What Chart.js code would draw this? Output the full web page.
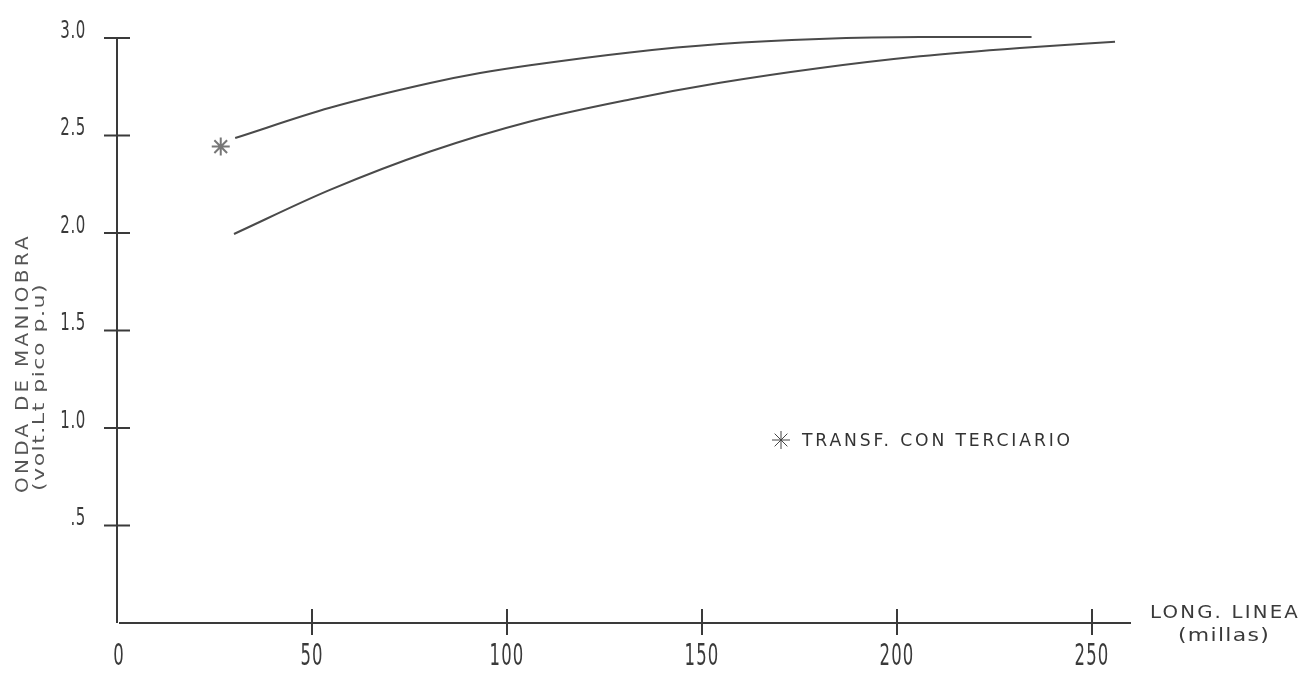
<!DOCTYPE html>
<html><head><meta charset="utf-8">
<script src="https://cdn.jsdelivr.net/npm/chart.js@4.4.1/dist/chart.umd.min.js"></script>
<style>html,body{margin:0;padding:0;background:#fff}#wrap{width:1305px;height:674px;position:relative}</style>
</head><body><div id="wrap"><canvas id="c"></canvas></div>
<script>
// ---- data ----
const upperX = [30.3, 54.6, 80.3, 93.1, 105.9, 131.5, 154.6, 180.0, 205.9, 234.5];
const upperY = [2.487, 2.642, 2.769, 2.820, 2.860, 2.926, 2.969, 2.995, 3.005, 3.005];
const lowerX = [30.0, 54.6, 80.3, 105.9, 131.5, 154.6, 180.3, 205.9, 231.5, 255.9];
const lowerY = [1.995, 2.221, 2.418, 2.572, 2.685, 2.770, 2.846, 2.906, 2.949, 2.981];
const starX = [26.6];
const starY = [2.443];
const xTicks = [0, 50, 100, 150, 200, 250];
const xTickLabels = ['0', '50', '100', '150', '200', '250'];
const yTicks = [0.5, 1.0, 1.5, 2.0, 2.5, 3.0];
const yTickLabels = ['.5', '1.0', '1.5', '2.0', '2.5', '3.0'];
const yTitle = ['ONDA DE MANIOBRA', '(volt.Lt pico p.u)'];
const xTitle = ['LONG. LINEA', '(millas)'];
const legendLabel = 'TRANSF. CON TERCIARIO';

const toPts = (xs, ys) => xs.map((x, i) => ({x: x, y: ys[i]}));
const FONT = '"DejaVu Sans", "Liberation Sans", sans-serif';
const INK = '#3a3a3a';

function txt(ctx, s, x, y, size, sx, align, spacing, color) {
  ctx.save();
  ctx.font = `400 ${size}px ${FONT}`;
  ctx.letterSpacing = (spacing || 0) + 'px';
  const w = ctx.measureText(s).width * sx;
  let x0 = align === 'center' ? x - w / 2 : align === 'right' ? x - w : x;
  ctx.translate(x0, y);
  ctx.scale(sx, 1);
  ctx.textAlign = 'left';
  ctx.textBaseline = 'middle';
  ctx.fillStyle = color || INK;
  ctx.fillText(s, 0, 0);
  ctx.restore();
}
function fitTxt(ctx, s, x, y, size, width, spacing, color) {
  ctx.save();
  ctx.font = `400 ${size}px ${FONT}`;
  ctx.letterSpacing = (spacing || 0) + 'px';
  const sx = width / ctx.measureText(s).width;
  ctx.restore();
  txt(ctx, s, x, y, size, sx, 'left', spacing, color);
}

const axesPlugin = {
  id: 'handAxes',
  beforeDatasetsDraw(chart) {
    const ctx = chart.ctx, xs = chart.scales.x, ys = chart.scales.y;
    const x0 = xs.getPixelForValue(0), y0 = ys.getPixelForValue(0);
    const xEnd = xs.getPixelForValue(xs.max), yTop = ys.getPixelForValue(ys.max);
    ctx.save();
    ctx.strokeStyle = INK;
    ctx.lineWidth = 2;
    ctx.beginPath();
    ctx.moveTo(x0, y0); ctx.lineTo(x0, yTop);
    ctx.moveTo(x0 + 2, y0); ctx.lineTo(xEnd, y0);
    ctx.stroke();
    ctx.beginPath();
    yTicks.forEach(v => { const p = ys.getPixelForValue(v); ctx.moveTo(x0 - 13, p); ctx.lineTo(x0 + 13, p); });
    xTicks.forEach(v => { if (v === 0) return; const p = xs.getPixelForValue(v); ctx.moveTo(p, y0 - 14); ctx.lineTo(p, y0 + 12); });
    ctx.stroke();
    ctx.restore();
    // tick labels
    yTicks.forEach((v, i) => txt(ctx, yTickLabels[i], x0 - 31, ys.getPixelForValue(v) - 7, 25, 0.6, 'right', 1));
    xTicks.forEach((v, i) => txt(ctx, xTickLabels[i], xs.getPixelForValue(v) + (v === 0 ? 2 : 0), y0 + 34, 30, 0.55, 'center', 2));
    // axis titles
    fitTxt(ctx, xTitle[0], 1150, 613, 18, 150, 2);
    fitTxt(ctx, xTitle[1], 1178, 637, 17, 92, 1);
    ctx.save();
    ctx.translate(23, 493); ctx.rotate(-Math.PI / 2);
    fitTxt(ctx, yTitle[0], 0, 0, 18, 260, 3, '#555');
    ctx.restore();
    ctx.save();
    ctx.translate(40, 491); ctx.rotate(-Math.PI / 2);
    fitTxt(ctx, yTitle[1], 0, 0, 15, 208, 1, '#555');
    ctx.restore();
    // legend
    ctx.save();
    ctx.strokeStyle = '#444'; ctx.fillStyle = '#444';
    Chart.helpers.drawPoint(ctx, {pointStyle: 'star', radius: 9, rotation: 0, borderWidth: 2}, 781, 440);
    ctx.restore();
    fitTxt(ctx, legendLabel, 802, 441, 18, 271, 3, '#333');
  }
};

new Chart(document.getElementById('c'), {
  type: 'scatter',
  data: {
    datasets: [
      {data: toPts(upperX, upperY), showLine: true, borderColor: '#4a4a4a', borderWidth: 2, pointRadius: 0, cubicInterpolationMode: 'monotone', clip: false},
      {data: toPts(lowerX, lowerY), showLine: true, borderColor: '#4a4a4a', borderWidth: 2, pointRadius: 0, cubicInterpolationMode: 'monotone', clip: false},
      {data: toPts(starX, starY), showLine: false, pointStyle: 'star', pointRadius: 9, pointBorderWidth: 2, pointBorderColor: '#777', pointBackgroundColor: '#777', clip: false}
    ]
  },
  options: {
    responsive: true, maintainAspectRatio: false, animation: false, devicePixelRatio: 1,
    layout: {padding: {left: 117, right: 174, top: 38, bottom: 51}},
    scales: {
      x: {type: 'linear', min: 0, max: 260, display: false},
      y: {type: 'linear', min: 0, max: 3, display: false}
    },
    plugins: {legend: {display: false}, tooltip: {enabled: false}}
  },
  plugins: [axesPlugin]
});
</script></body></html>
